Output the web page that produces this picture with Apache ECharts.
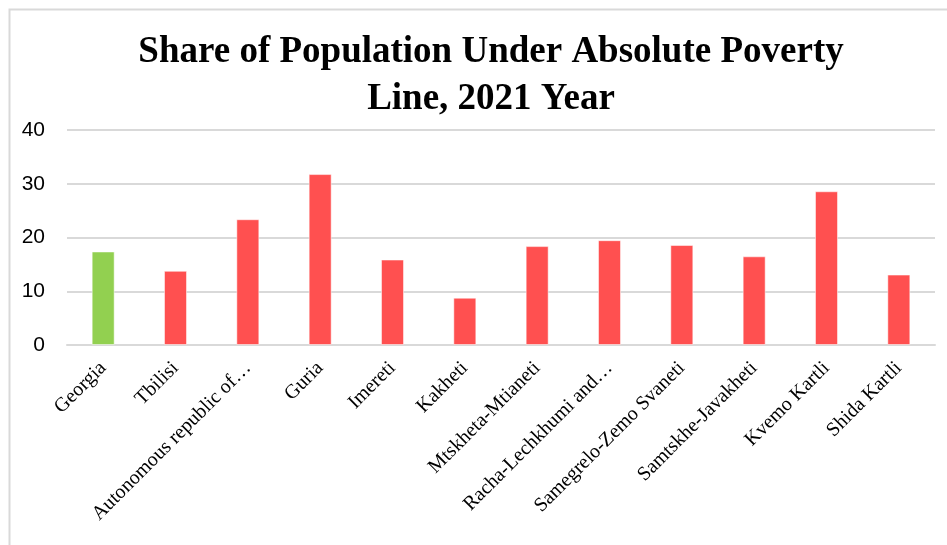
<!DOCTYPE html>
<html>
<head>
<meta charset="utf-8">
<script src="https://cdn.jsdelivr.net/npm/echarts@6/dist/echarts.min.js"></script>
<style>
html,body{margin:0;padding:0;background:#fff;}
#chart{width:947px;height:545px;}
</style>
</head>
<body>
<div id="chart"></div>
<script>
var categories = ["Georgia","Tbilisi","Autonomous republic of…","Guria","Imereti","Kakheti","Mtskheta-Mtianeti","Racha-Lechkhumi and…","Samegrelo-Zemo Svaneti","Samtskhe-Javakheti","Kvemo Kartli","Shida Kartli"];
var values = [17.4, 13.8, 23.4, 31.8, 15.9, 8.8, 18.4, 19.5, 18.6, 16.5, 28.6, 13.1];
var highlightCategory = "Georgia";
var yTicks = [0, 10, 20, 30, 40];

var chart = echarts.init(document.getElementById('chart'), null, {renderer:'canvas'});
chart.setOption({
  animation:false,
  backgroundColor:'#fff',
  graphic:[{
    type:'rect', shape:{x:9.5,y:9.5,width:960,height:560},
    style:{fill:'none',stroke:'#d9d9d9',lineWidth:2}, silent:true
  }],
  title:{
    text:'Share of Population Under Absolute Poverty\nLine, 2021 Year',
    left:486, textAlign:'center', top:24,
    textStyle:{fontFamily:'Liberation Serif',fontWeight:'bold',fontSize:37,lineHeight:47,color:'#000'}
  },
  grid:{left:67,right:12,top:130,bottom:200,containLabel:false},
  xAxis:{
    type:'category', data:categories,
    axisLine:{show:true,lineStyle:{color:'#d9d9d9',width:2}},
    axisTick:{show:false},
    axisLabel:{rotate:45,interval:0,margin:20,fontFamily:'Liberation Serif',fontSize:20,color:'#000'}
  },
  yAxis:{
    type:'value', min:yTicks[0], max:yTicks[yTicks.length-1], interval:10,
    axisLine:{show:false}, axisTick:{show:false},
    splitLine:{lineStyle:{color:'#d9d9d9',width:2}},
    axisLabel:{margin:22,fontFamily:'Liberation Sans',fontSize:21,color:'#000'}
  },
  series:[{
    type:'bar', barWidth:23,
    data:values.map(function(v,i){
      return {value:v, itemStyle:{color: categories[i]===highlightCategory ? '#92d050' : '#ff5050'}};
    }),
    itemStyle:{borderColor:'rgba(255,255,255,0.5)',borderWidth:1}
  }]
});
</script>
</body>
</html>
